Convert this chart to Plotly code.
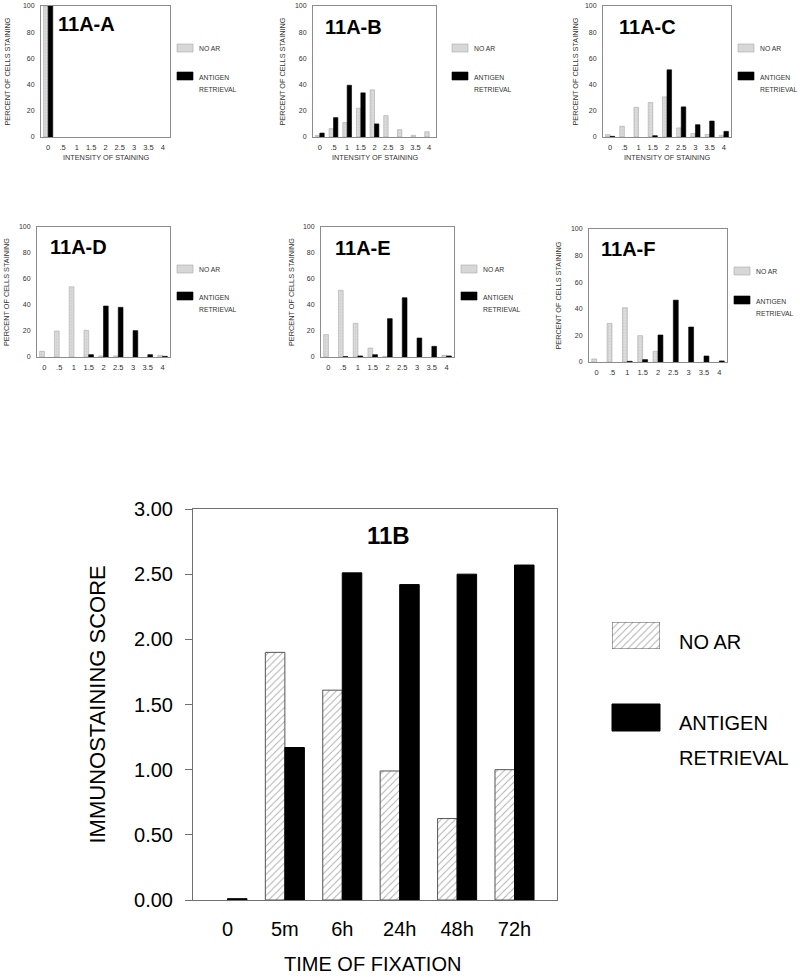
import plotly.graph_objects as go

W, H = 800, 977
FONT = "Liberation Sans, Arial, sans-serif"

# ---------------- data ----------------
intensity = ["0", ".5", "1", "1.5", "2", "2.5", "3", "3.5", "4"]
panel_names = ["11A-A", "11A-B", "11A-C", "11A-D", "11A-E", "11A-F"]

noar_A = [100, 0, 0, 0, 0, 0, 0, 0, 0]
ar_A = [100, 0, 0, 0, 0, 0, 0, 0, 0]
noar_B = [1.3, 6.4, 11, 22, 36, 16.3, 5.6, 1.3, 4]
ar_B = [3, 14.8, 39.5, 33.7, 10, 0, 0, 0, 0]
noar_C = [1.8, 8.2, 22.7, 26.3, 30.6, 6.9, 2.6, 2, 1.3]
ar_C = [0.5, 0, 0, 1, 51.3, 23, 9.4, 12.2, 4.3]
noar_D = [4.4, 20, 54, 20.5, 0.8, 0.8, 0, 0, 1.3]
ar_D = [0, 0, 0, 1.8, 39.2, 38.2, 20.3, 1.8, 0.5]
noar_E = [17.2, 51.3, 25.9, 6.9, 0.5, 0, 0, 0, 1.3]
ar_E = [0, 0.3, 0.8, 1.8, 29.5, 45.6, 14.6, 8.2, 0.8]
noar_F = [2.3, 29, 40.8, 19.8, 8, 0, 0, 0, 0]
ar_F = [0, 0, 0.5, 1.8, 20.3, 46.5, 26.3, 4.5, 0.8]

percent_ticks = [0, 20, 40, 60, 80, 100]

times = ["0", "5m", "6h", "24h", "48h", "72h"]
score_noar = [0, 1.90, 1.61, 0.99, 0.625, 1.00]
score_ar = [0.01, 1.17, 2.51, 2.42, 2.50, 2.57]
score_ticks = [0, 0.5, 1.0, 1.5, 2.0, 2.5, 3.0]
score_ticklabels = ["0.00", "0.50", "1.00", "1.50", "2.00", "2.50", "3.00"]

legend_noar = "NO AR"
legend_ar = ["ANTIGEN", "RETRIEVAL"]

# ---------------- layout geometry (pixels) ----------------
panels = [
    dict(x0=41, x1=170, t=6, b=137, ytx=7, tdx=15, tdy=18, lx=177, ly=44, ardy=28, xtitle=True),
    dict(x0=313, x1=436, t=6, b=137, ytx=282, tdx=10, tdy=21, lx=452, ly=44, ardy=28, xtitle=True),
    dict(x0=603, x1=731, t=6, b=137, ytx=575, tdx=14, tdy=21, lx=738, ly=44, ardy=28, xtitle=True),
    dict(x0=37, x1=170, t=227, b=357, ytx=7, tdx=11, tdy=20, lx=177, ly=265, ardy=27, xtitle=False),
    dict(x0=321, x1=454, t=227, b=357, ytx=292, tdx=12, tdy=21, lx=461, ly=265, ardy=27, xtitle=False),
    dict(x0=589, x1=727, t=229, b=362, ytx=558, tdx=10, tdy=20, lx=734, ly=267, ardy=29, xtitle=False),
]
series = [(noar_A, ar_A), (noar_B, ar_B), (noar_C, ar_C),
          (noar_D, ar_D), (noar_E, ar_E), (noar_F, ar_F)]

def px(x):
    return x / W

def py(y):
    return 1 - y / H

def nz(vals):
    # zero-height bars are not drawn in the reference
    return [v if v > 0 else None for v in vals]

fig = go.Figure()
annotations = []
shapes = []
layout = {}

BW = 0.32
for i, (p, (noar, ar)) in enumerate(zip(panels, series)):
    n = i + 1
    xa = "x" if n == 1 else f"x{n}"
    ya = "y" if n == 1 else f"y{n}"
    fig.add_trace(go.Bar(x=intensity, y=nz(noar), xaxis=xa, yaxis=ya,
                         width=BW, offset=-BW,
                         marker=dict(color="#d7d7d7", line=dict(color="#a8a8a8", width=0.6),
                                     pattern=dict(shape=".", fgcolor="#bdbdbd", bgcolor="#dcdcdc",
                                                  size=3, solidity=0.3)),
                         showlegend=False))
    fig.add_trace(go.Bar(x=intensity, y=nz(ar), xaxis=xa, yaxis=ya,
                         width=BW, offset=0,
                         marker=dict(color="black", line=dict(color="black", width=0.6)),
                         showlegend=False))
    kx = "xaxis" if n == 1 else f"xaxis{n}"
    ky = "yaxis" if n == 1 else f"yaxis{n}"
    layout[kx] = dict(domain=[px(p["x0"]), px(p["x1"])], anchor=ya, type="category",
                      range=[-0.5, 8.5], showline=True, mirror=True, linecolor="#8c8c8c",
                      linewidth=1, ticks="", showgrid=False, zeroline=False,
                      tickfont=dict(size=7.5, color="#333", family=FONT),
                      ticklabelstandoff=3, fixedrange=True, automargin=False)
    layout[ky] = dict(domain=[py(p["b"]), py(p["t"])], anchor=xa, range=[0, 100],
                      tickvals=percent_ticks, showline=True, mirror=True, linecolor="#8c8c8c",
                      linewidth=1, ticks="", showgrid=False, zeroline=False,
                      tickfont=dict(size=7, color="#333", family=FONT),
                      ticklabelstandoff=4, fixedrange=True, automargin=False)
    annotations.append(dict(text="PERCENT OF CELLS STAINING", xref="paper", yref="paper",
                            x=px(p["ytx"]), y=py((p["t"] + p["b"]) / 2), textangle=-90,
                            showarrow=False, xanchor="center", yanchor="middle",
                            font=dict(size=7.3, color="#333", family=FONT)))
    if p["xtitle"]:
        annotations.append(dict(text="INTENSITY OF STAINING", xref="paper", yref="paper",
                                x=px((p["x0"] + p["x1"]) / 2), y=py(157), showarrow=False,
                                xanchor="center", yanchor="middle",
                                font=dict(size=7.3, color="#333", family=FONT)))
    annotations.append(dict(text="<b>%s</b>" % panel_names[i], xref="paper", yref="paper",
                            x=px(p["x0"] + p["tdx"]), y=py(p["t"] + p["tdy"]), showarrow=False,
                            xanchor="left", yanchor="middle",
                            font=dict(size=20, color="black", family=FONT)))
    lx, ly, ardy = p["lx"], p["ly"], p["ardy"]
    shapes.append(dict(type="rect", xref="paper", yref="paper",
                       x0=px(lx), x1=px(lx + 16), y0=py(ly + 8), y1=py(ly),
                       fillcolor="#d7d7d7", line=dict(color="#a8a8a8", width=0.6)))
    shapes.append(dict(type="rect", xref="paper", yref="paper",
                       x0=px(lx), x1=px(lx + 16), y0=py(ly + ardy + 8), y1=py(ly + ardy),
                       fillcolor="black", line=dict(color="black", width=0.6)))
    annotations.append(dict(text=legend_noar, xref="paper", yref="paper",
                            x=px(lx + 20), y=py(ly + 4.5), showarrow=False,
                            xanchor="left", yanchor="middle",
                            font=dict(size=6.8, color="#333", family=FONT)))
    annotations.append(dict(text=legend_ar[0], xref="paper", yref="paper",
                            x=px(lx + 20), y=py(ly + ardy + 5), showarrow=False,
                            xanchor="left", yanchor="middle",
                            font=dict(size=6.8, color="#333", family=FONT)))
    annotations.append(dict(text=legend_ar[1], xref="paper", yref="paper",
                            x=px(lx + 20), y=py(ly + ardy + 17), showarrow=False,
                            xanchor="left", yanchor="middle",
                            font=dict(size=6.8, color="#333", family=FONT)))

# ---------------- big chart 11B ----------------
BX0, BX1, BT, BB = 193, 557, 509, 900
BBW = 0.34
hatch = dict(shape="/", fgcolor="#555555", bgcolor="white", size=5, solidity=0.18)
fig.add_trace(go.Bar(x=times, y=nz(score_noar), xaxis="x7", yaxis="y7", width=BBW, offset=-BBW,
                     marker=dict(color="white", line=dict(color="#555", width=1), pattern=hatch),
                     showlegend=False))
fig.add_trace(go.Bar(x=times, y=nz(score_ar), xaxis="x7", yaxis="y7", width=BBW, offset=0,
                     marker=dict(color="black", line=dict(color="black", width=1)),
                     showlegend=False))
layout["xaxis7"] = dict(domain=[px(BX0), px(BX1)], anchor="y7", type="category",
                        range=[-0.6, 5.74], showline=True, mirror=True, linecolor="#707070",
                        linewidth=1, ticks="", showgrid=False, zeroline=False,
                        tickfont=dict(size=20, color="black", family=FONT),
                        ticklabelstandoff=11, fixedrange=True, automargin=False)
layout["yaxis7"] = dict(domain=[py(BB), py(BT)], anchor="x7", range=[0, 3],
                        tickvals=score_ticks, ticktext=score_ticklabels,
                        showline=True, mirror=True, linecolor="#707070", linewidth=1,
                        ticks="outside", ticklen=7, tickcolor="#707070",
                        showgrid=False, zeroline=False,
                        tickfont=dict(size=20, color="black", family=FONT),
                        ticklabelstandoff=8, fixedrange=True, automargin=False)
annotations.append(dict(text="<b>11B</b>", xref="paper", yref="paper", x=px(388), y=py(535),
                        showarrow=False, xanchor="center", yanchor="middle",
                        font=dict(size=24, color="black", family=FONT)))
annotations.append(dict(text="IMMUNOSTAINING SCORE", xref="paper", yref="paper", x=px(97),
                        y=py((BT + BB) / 2), textangle=-90, showarrow=False,
                        xanchor="center", yanchor="middle",
                        font=dict(size=22, color="black", family=FONT)))
annotations.append(dict(text="TIME OF FIXATION", xref="paper", yref="paper", x=px(372),
                        y=py(964), showarrow=False, xanchor="center", yanchor="middle",
                        font=dict(size=20, color="black", family=FONT)))

fig.add_trace(go.Bar(x=[0], y=[1], xaxis="x8", yaxis="y8", width=1,
                     marker=dict(color="white", line=dict(color="#555", width=1), pattern=hatch),
                     showlegend=False, hoverinfo="skip"))
layout["xaxis8"] = dict(domain=[px(612), px(660)], anchor="y8", range=[-0.5, 0.5],
                        visible=False, fixedrange=True)
layout["yaxis8"] = dict(domain=[py(649), py(622)], anchor="x8", range=[0, 1],
                        visible=False, fixedrange=True)
shapes.append(dict(type="rect", xref="paper", yref="paper",
                   x0=px(612), x1=px(660), y0=py(731), y1=py(704),
                   fillcolor="black", line=dict(color="black", width=1)))
annotations.append(dict(text=legend_noar, xref="paper", yref="paper", x=px(677), y=py(642),
                        showarrow=False, xanchor="left", yanchor="middle",
                        font=dict(size=20, color="black", family=FONT)))
annotations.append(dict(text=legend_ar[0], xref="paper", yref="paper", x=px(677), y=py(723),
                        showarrow=False, xanchor="left", yanchor="middle",
                        font=dict(size=20, color="black", family=FONT)))
annotations.append(dict(text=legend_ar[1], xref="paper", yref="paper", x=px(677), y=py(758),
                        showarrow=False, xanchor="left", yanchor="middle",
                        font=dict(size=20, color="black", family=FONT)))

fig.update_layout(width=W, height=H, margin=dict(l=0, r=0, t=0, b=0, autoexpand=False),
                  paper_bgcolor="white", plot_bgcolor="white",
                  barmode="overlay", showlegend=False,
                  annotations=annotations, shapes=shapes,
                  font=dict(family=FONT), **layout)

fig.write_html("out.html", config={"displayModeBar": False, "staticPlot": True},
               post_script="document.body.style.margin='0';document.body.style.overflow='hidden';")
